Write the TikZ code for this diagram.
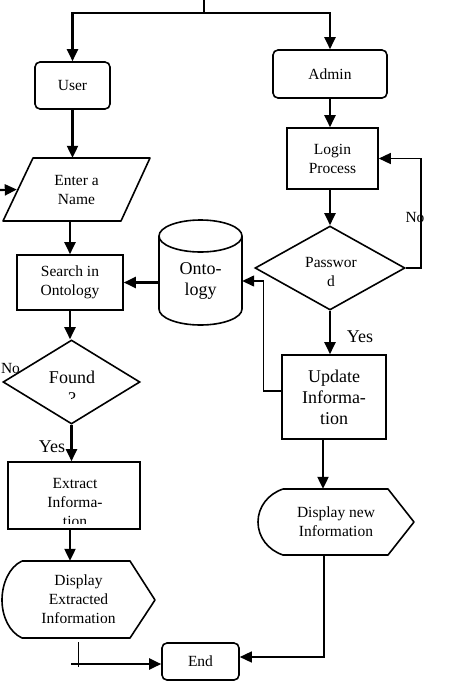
\documentclass[tikz,border=0pt]{standalone}
\usepackage{fontspec}
\setmainfont{Liberation Serif}
\usetikzlibrary{shapes.geometric,arrows.meta,calc}
\newcommand\myfsn{\fontsize{15.5}{19}\selectfont}
\newcommand\myfsl{\fontsize{18}{21}\selectfont}
\begin{document}
\begin{tikzpicture}[x=1pt,y=-1pt,
  box/.style={draw,line width=1.6pt,inner sep=0pt,align=center,font=\myfsn},
  rbox/.style={box,rounded corners=5pt},
  txt/.style={inner sep=0pt,align=center,font=\myfsn},
  shapeline/.style={draw,line width=1.6pt,line join=round},
  arrthick/.style={line width=2.2pt,-{Triangle[length=12pt,width=11pt]}},
  arrthin/.style={line width=1.4pt,-{Triangle[length=12pt,width=11pt]}},
  lnthick/.style={line width=2.2pt},
  lnthin/.style={line width=1.4pt}]
\fill[white] (0,0) rectangle (474,681);
\useasboundingbox (0,0) rectangle (474,681);

% nodes
\node[rbox,minimum width=75pt,minimum height=47pt] (user) at (72.5,85.5) {User};
\node[rbox,minimum width=114pt,minimum height=48pt] (admin) at (330,74) {Admin};
\node[box,minimum width=91pt,minimum height=61pt] (login) at (332.5,158.5) {Login\\Process};
\node[box,diamond,aspect=1.786,minimum width=150pt,minimum height=84pt] (pass) at (330,268) {};
\node[txt] (passtxt) at (331,272) {Passwor\\d};
\node[box,font=\myfsl,minimum width=104pt,minimum height=84pt] (update) at (334,397) {Update\\Informa-\\tion};

% ontology cylinder
\node[txt,font=\myfsl,minimum width=83pt] (onto) at (200.5,281) {Onto-\\logy};
\draw[shapeline] (200.5,236) ellipse [x radius=41.5, y radius=16];
\draw[shapeline] (159,236) -- (159,309) arc[start angle=180,end angle=0,x radius=41.5,y radius=16] -- (242,236);

\node[box,minimum width=106pt,minimum height=55pt] (search) at (70,282.5) {Search in\\Ontology};

% enter a name (parallelogram)
\node[txt,minimum width=147pt,minimum height=63pt] (enter) at (76.5,189.5) {Enter a\\Name};
\draw[shapeline] (33,158) -- (150,158) -- (121,221) -- (3,221) -- cycle;

% found diamond
\node[draw,diamond,line width=1.6pt,inner sep=0pt,aspect=1.63,minimum width=137pt,minimum height=84pt] (found) at (71.5,382) {};
\begin{scope}
\clip (0,330) rectangle (150,398);
\node[txt,font=\myfsl] (foundtxt) at (72,388) {Found\\?};
\end{scope}

% extract
\node[box,minimum width=132pt,minimum height=67pt] (extract) at (74,495.5) {};
\begin{scope}
\clip (0,450) rectangle (150,523);
\node[txt] (extracttxt) at (75,502) {Extract\\Informa-\\tion};
\end{scope}

% display extracted
\node[txt,minimum width=153pt,minimum height=77pt] (dispx) at (78.5,599.5) {Display\\Extracted\\Information};
\draw[shapeline] (22,561) -- (130,561) -- (155,600) -- (130,638) -- (22,638)
  .. controls (9,632) and (2,616) .. (2,600) .. controls (2,584) and (9,567) .. (22,561);

% display new
\node[txt,minimum width=156pt,minimum height=66pt] (dispn) at (336,522) {Display new\\Information};
\draw[shapeline] (283,489) -- (388,489) -- (414,522) -- (388,555) -- (283,555)
  .. controls (268,550) and (258,537) .. (258,522) .. controls (258,507) and (268,494) .. (283,489);

\node[rbox,minimum width=77pt,minimum height=37pt] (endn) at (200.5,661.5) {End};

% labels
\node[txt] (nolbl) at (415,217) {No};
\node[txt,font=\myfsl] (yesr) at (360,337) {Yes};
\node[txt,font=\myfsl] (yesl) at (52,447) {Yes};
\node[txt] (nofound) at (10.5,368) {No};

% connectors
\coordinate (topin) at (204,0);
\coordinate (split) at (204,13);
\coordinate (leftin) at (0,190);
\coordinate (dxl) at (71,664);
\draw[lnthick] (topin) -- (split);
\draw[arrthick] (split) -| (user.north);
\draw[arrthick] (split) -| (admin.north);
\draw[arrthick] (admin.south) -- (admin.south |- login.north);
\draw[arrthick] (pass.north |- login.south) -- (pass.north);
\draw[arrthin] (pass.east) -- ++(15,0) |- (login.east);
\draw[arrthick] (pass.south) -- (pass.south |- update.north);
\draw[arrthin] ([yshift=6pt]update.west) -- ++(-18,0) |- (onto.east);
\draw[arrthick] (search.east -| onto.west) -- (search.east);
\draw[arrthick] (user.south) -- (user.south |- enter.north);
\draw[arrthick] (leftin) -- ([xshift=14pt]enter.west);
\draw[arrthick] (search.north |- enter.south) -- (search.north);
\draw[arrthick] (search.south) -- (search.south |- found.north);
\draw[arrthick] (found.south) -- (found.south |- extract.north);
\draw[arrthick] ([xshift=-4pt]extract.south) -- ([xshift=-4pt]extract.south |- dispx.north);
\draw[arrthick] ([xshift=-11pt]update.south) -- ([xshift=-11pt]update.south |- dispn.north);
\draw[arrthin] ([xshift=-12pt]dispn.south) |- ([yshift=4.5pt]endn.east);
\draw[lnthin] ([yshift=-4pt]dispx.south) -- ++(0,25);
\draw[arrthick] (dxl) -- (dxl -| endn.west);
\end{tikzpicture}
\end{document}
